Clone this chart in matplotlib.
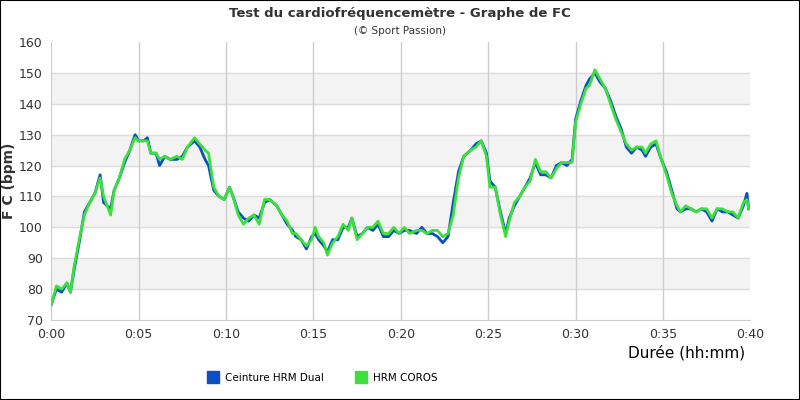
import matplotlib.pyplot as plt
from matplotlib.lines import Line2D
from matplotlib.patches import Rectangle

# temps en minutes
temps = [0, 0.3, 0.6, 0.9, 1.1, 1.3, 1.6, 1.9, 2.2, 2.5, 2.8, 3.0, 3.2, 3.4, 3.6, 3.9,
         4.2, 4.5, 4.8, 5.0, 5.3, 5.5, 5.7, 6.0, 6.2, 6.5, 6.8, 7.2, 7.5, 7.8, 8.2, 8.5,
         8.8, 9.0, 9.3, 9.6, 9.9, 10.2, 10.4, 10.7, 11.0, 11.3, 11.6, 11.9, 12.2, 12.5,
         12.9, 13.2, 13.5, 13.8, 14.0, 14.3, 14.6, 14.9, 15.1, 15.3, 15.6, 15.8, 16.1,
         16.4, 16.7, 17.0, 17.2, 17.5, 17.8, 18.1, 18.4, 18.7, 19.0, 19.3, 19.6, 19.9,
         20.2, 20.5, 20.9, 21.2, 21.5, 21.8, 22.1, 22.4, 22.7, 23.0, 23.3, 23.6, 24.0,
         24.3, 24.6, 24.9, 25.1, 25.4, 25.7, 26.0, 26.2, 26.5, 26.8, 27.1, 27.4, 27.7,
         28.0, 28.3, 28.6, 28.9, 29.2, 29.5, 29.8, 30.0, 30.3, 30.6, 30.8, 31.1, 31.4,
         31.7, 32.0, 32.3, 32.6, 32.9, 33.2, 33.5, 33.8, 34.0, 34.3, 34.6, 34.9, 35.2,
         35.5, 35.8, 36.0, 36.3, 36.6, 36.9, 37.2, 37.5, 37.8, 38.1, 38.4, 38.7, 39.0,
         39.3, 39.6, 39.8, 39.9]

ceinture = [75, 80, 79, 82, 79, 86, 95, 105, 108, 111, 117, 108, 107, 106, 112, 116,
            121, 125, 130, 128, 128, 129, 124, 124, 120, 123, 122, 122, 123, 126, 128, 126,
            122, 120, 112, 110, 109, 113, 110, 105, 103, 102, 104, 103, 108, 109,
            107, 104, 101, 99, 97, 96, 93, 97, 98, 96, 94, 92, 96,
            96, 100, 100, 103, 97, 98, 100, 99, 101, 97, 97, 99, 98,
            99, 99, 98, 100, 98, 98, 97, 95, 97, 108, 118, 123, 125,
            127, 128, 124, 115, 113, 105, 98, 103, 107, 110, 113, 116, 121,
            117, 117, 116, 120, 121, 120, 122, 135, 141, 146, 148, 150, 147,
            145, 141, 136, 132, 126, 124, 126, 125, 123, 126, 127, 122, 118,
            112, 106, 105, 106, 106, 105, 106, 105, 102, 106, 105, 105, 104,
            103, 107, 111, 106]

coros = [75, 81, 80, 82, 79, 87, 96, 104, 108, 111, 116, 110, 107, 104, 112, 116,
         122, 125, 129, 128, 128, 128, 124, 124, 122, 123, 122, 123, 122, 126, 129, 127,
         125, 124, 113, 110, 109, 113, 110, 104, 101, 103, 104, 101, 109, 109,
         107, 104, 102, 98, 98, 96, 94, 96, 100, 97, 95, 91, 95,
         97, 101, 99, 103, 96, 98, 100, 100, 102, 98, 98, 100, 98,
         100, 98, 99, 99, 98, 99, 99, 97, 98, 104, 116, 123, 125,
         126, 128, 123, 113, 113, 104, 97, 102, 108, 110, 113, 115, 122,
         118, 118, 116, 119, 121, 121, 121, 134, 140, 145, 146, 151, 148,
         145, 140, 135, 131, 127, 125, 126, 126, 124, 127, 128, 122, 117,
         111, 107, 105, 107, 106, 105, 106, 106, 103, 106, 106, 105, 105,
         103, 108, 109, 106]

tick_labels = ['0:00', '0:05', '0:10', '0:15', '0:20', '0:25', '0:30', '0:35', '0:40']

fig = plt.figure(figsize=(8, 4), dpi=100)
ax = fig.add_axes([0.064, 0.2, 0.874, 0.695])
fig.patches.append(Rectangle((0, 0), 1, 1, transform=fig.transFigure, fill=False,
                             edgecolor='black', lw=1.5))

for lo in [80, 100, 120, 140]:
    ax.axhspan(lo, lo + 10, color='#f3f3f3', zorder=0)
for y in range(80, 160, 10):
    ax.axhline(y, color='#dddddd', lw=1, zorder=1)
for x in range(5, 40, 5):
    ax.axvline(x, color='#cccccc', lw=1, zorder=1)

ax.plot(temps, ceinture, color='#0a4fc4', lw=2, zorder=3)
ax.plot(temps, coros, color='#3de03a', lw=2, zorder=4)

ax.set_xlim(0, 40)
ax.set_ylim(70, 160)
ax.set_xticks(range(0, 41, 5))
ax.set_xticklabels(tick_labels)
ax.set_yticks(range(70, 161, 10))
ax.tick_params(labelsize=9, length=0, colors='#333333')
ax.tick_params(axis='y', pad=6)
ax.tick_params(axis='x', pad=6)
for s in ['top', 'right']:
    ax.spines[s].set_visible(False)
for s in ['left', 'bottom']:
    ax.spines[s].set_color('#cccccc')

ax.set_ylabel('F C (bpm)', fontsize=10, fontweight='bold', color='#333333', labelpad=2)
fig.text(0.932, 0.105, 'Durée (hh:mm)', ha='right', fontsize=11, color='black')
fig.text(0.5, 0.958, 'Test du cardiofréquencemètre - Graphe de FC', ha='center',
         fontsize=9.5, fontweight='bold', color='#333333')
fig.text(0.5, 0.915, '(© Sport Passion)', ha='center', fontsize=7.5, color='#333333')

handles = [Line2D([], [], color='#0a4fc4', marker='s', ls='', markersize=8),
           Line2D([], [], color='#3de03a', marker='s', ls='', markersize=8)]
fig.legend(handles, ['Ceinture HRM Dual', 'HRM COROS'], loc='center',
           bbox_to_anchor=(0.4, 0.055), ncol=2, frameon=False, fontsize=7.5,
           handletextpad=0.2, columnspacing=2.5)

fig.savefig('out.png', dpi=100)
